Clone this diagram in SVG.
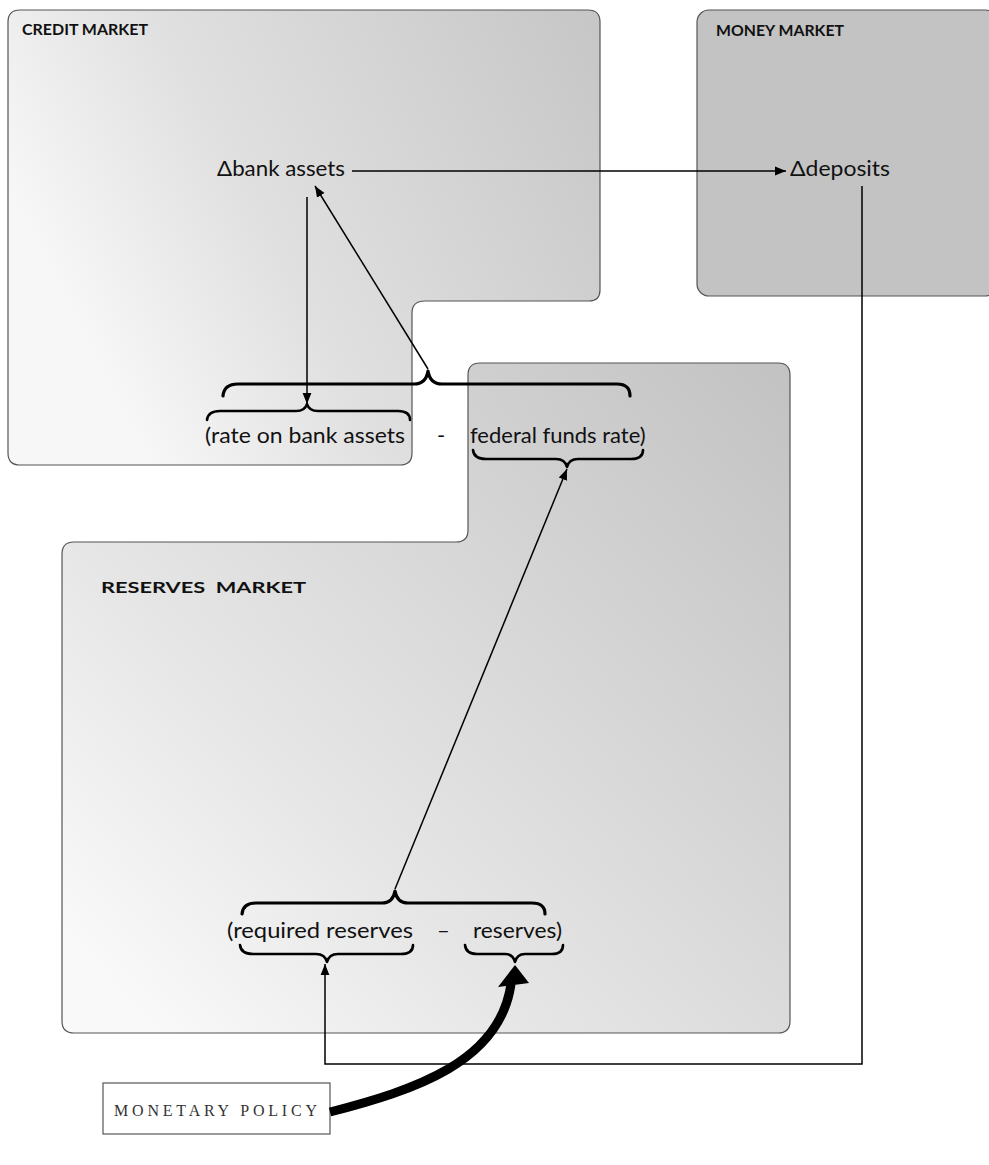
<svg xmlns="http://www.w3.org/2000/svg" width="989" height="1165" viewBox="0 0 989 1165">
<defs>
<linearGradient id="gCredit" x1="0" y1="0.4" x2="1" y2="0">
<stop offset="0" stop-color="#f7f7f7"/>
<stop offset="0.35" stop-color="#e0e0e0"/>
<stop offset="1" stop-color="#c6c6c6"/>
</linearGradient>
<linearGradient id="gRes" x1="0" y1="0.85" x2="1" y2="0">
<stop offset="0" stop-color="#f9f9f9"/>
<stop offset="0.3" stop-color="#e6e6e6"/>
<stop offset="1" stop-color="#c2c2c2"/>
</linearGradient>
<marker id="ah" viewBox="0 0 10 10" refX="10" refY="5" markerWidth="11" markerHeight="11" markerUnits="userSpaceOnUse" orient="auto">
<path d="M0,1 L10,5 L0,9 Z" fill="#000"/>
</marker>
<style>
.box{stroke:#555;stroke-width:1.2}
.title{font-family:Lato,"Open Sans",sans-serif;font-weight:bold;font-size:16px;fill:#111}
.lbl{font-family:Lato,"Open Sans",sans-serif;font-size:22px;fill:#111}
.brace{fill:none;stroke:#000;stroke-width:3.2;stroke-linecap:round;stroke-linejoin:round}
.bracet{fill:none;stroke:#000;stroke-width:2.6;stroke-linecap:round;stroke-linejoin:round}
.ln{fill:none;stroke:#000;stroke-width:1.5}
.policy{font-family:"Liberation Serif",serif;font-size:16px;fill:#333}
</style>
</defs>
<rect width="989" height="1165" fill="#fff"/>

<g id="credit-market">
<path class="box" fill="url(#gCredit)" d="M8,22 Q8,10 20,10 L588,10 Q600,10 600,22 L600,290 Q600,301 589,301 L425,301 Q412,301 412,313 L412,453 Q412,465 400,465 L20,465 Q8,465 8,453 Z"/>
<text class="title" x="22" y="35" textLength="126" lengthAdjust="spacingAndGlyphs">CREDIT MARKET</text>
</g>

<g id="money-market">
<rect class="box" fill="#c3c3c3" x="697" y="10" width="300" height="286" rx="12"/>
<text class="title" x="716" y="36" textLength="128" lengthAdjust="spacingAndGlyphs">MONEY MARKET</text>
</g>

<g id="reserves-market">
<path class="box" fill="url(#gRes)" d="M480,363 L778,363 Q790,363 790,375 L790,1021 Q790,1033 778,1033 L74,1033 Q62,1033 62,1021 L62,554 Q62,542 74,542 L456,542 Q468,542 468,530 L468,375 Q468,363 480,363 Z"/>
<text class="title" x="101" y="593" font-size="18" textLength="205" lengthAdjust="spacingAndGlyphs" xml:space="preserve">RESERVES  MARKET</text>
</g>

<g id="bank-assets">
<text class="lbl" x="217" y="176" textLength="128" lengthAdjust="spacingAndGlyphs">Δbank assets</text>
</g>

<g id="deposits">
<text class="lbl" x="790" y="176" textLength="100" lengthAdjust="spacingAndGlyphs">Δdeposits</text>
</g>

<g id="spread-credit">
<path class="brace" d="M223,396 Q224,384 238,384 L414,384 Q426,384 428,371 Q430,384 442,384 L617,384 Q630,384 630,396"/>
<path class="bracet" d="M207,420 Q208,411 220,411 L296,411 Q305,411 307,404 Q309,411 318,411 L398,411 Q410,411 410,420"/>
<text class="lbl" x="205" y="443" textLength="200" lengthAdjust="spacingAndGlyphs">(rate on bank assets</text>
<text class="lbl" x="437" y="443">-</text>
<text class="lbl" x="470" y="443">federal funds rate)</text>
<path class="bracet" d="M473,450 Q474,459 486,459 L556,459 Q565,459 567,467 Q569,459 578,459 L631,459 Q643,459 643,450"/>
</g>

<g id="spread-reserves">
<path class="brace" d="M242,914 Q243,903 256,903 L382,903 Q393,903 395,891 Q397,903 408,903 L532,903 Q545,903 545,914"/>
<text class="lbl" x="227" y="938" textLength="186" lengthAdjust="spacingAndGlyphs">(required reserves</text>
<text class="lbl" x="437" y="938">–</text>
<text class="lbl" x="473" y="938" textLength="89" lengthAdjust="spacingAndGlyphs">reserves)</text>
<path class="bracet" d="M240,945 Q241,954 253,954 L316,954 Q325,954 327,962 Q329,954 338,954 L401,954 Q413,954 413,945"/>
<path class="bracet" d="M465,945 Q466,954 477,954 L505,954 Q513,954 515,962 Q517,954 525,954 L552,954 Q563,954 563,945"/>
</g>

<g id="monetary-policy">
<rect x="103" y="1083" width="227" height="51" fill="#fff" stroke="#555" stroke-width="1.2"/>
<text class="policy" x="114" y="1116" textLength="203" lengthAdjust="spacing">MONETARY POLICY</text>
</g>

<g id="connectors">
<line class="ln" x1="352" y1="171" x2="786" y2="171" marker-end="url(#ah)"/>
<line class="ln" x1="307" y1="197" x2="307" y2="404" marker-end="url(#ah)"/>
<line class="ln" x1="428" y1="369" x2="315" y2="186" marker-end="url(#ah)"/>
<line class="ln" x1="395" y1="889" x2="567" y2="469" marker-end="url(#ah)"/>
<polyline class="ln" points="862,186 862,1064 325,1064 325,964" marker-end="url(#ah)"/>
<path d="M330,1112 C415,1090 500,1062 511,984" fill="none" stroke="#000" stroke-width="9"/>
<path d="M498,987 L515,965 L529,983 Z" fill="#000"/>
</g>
</svg>
